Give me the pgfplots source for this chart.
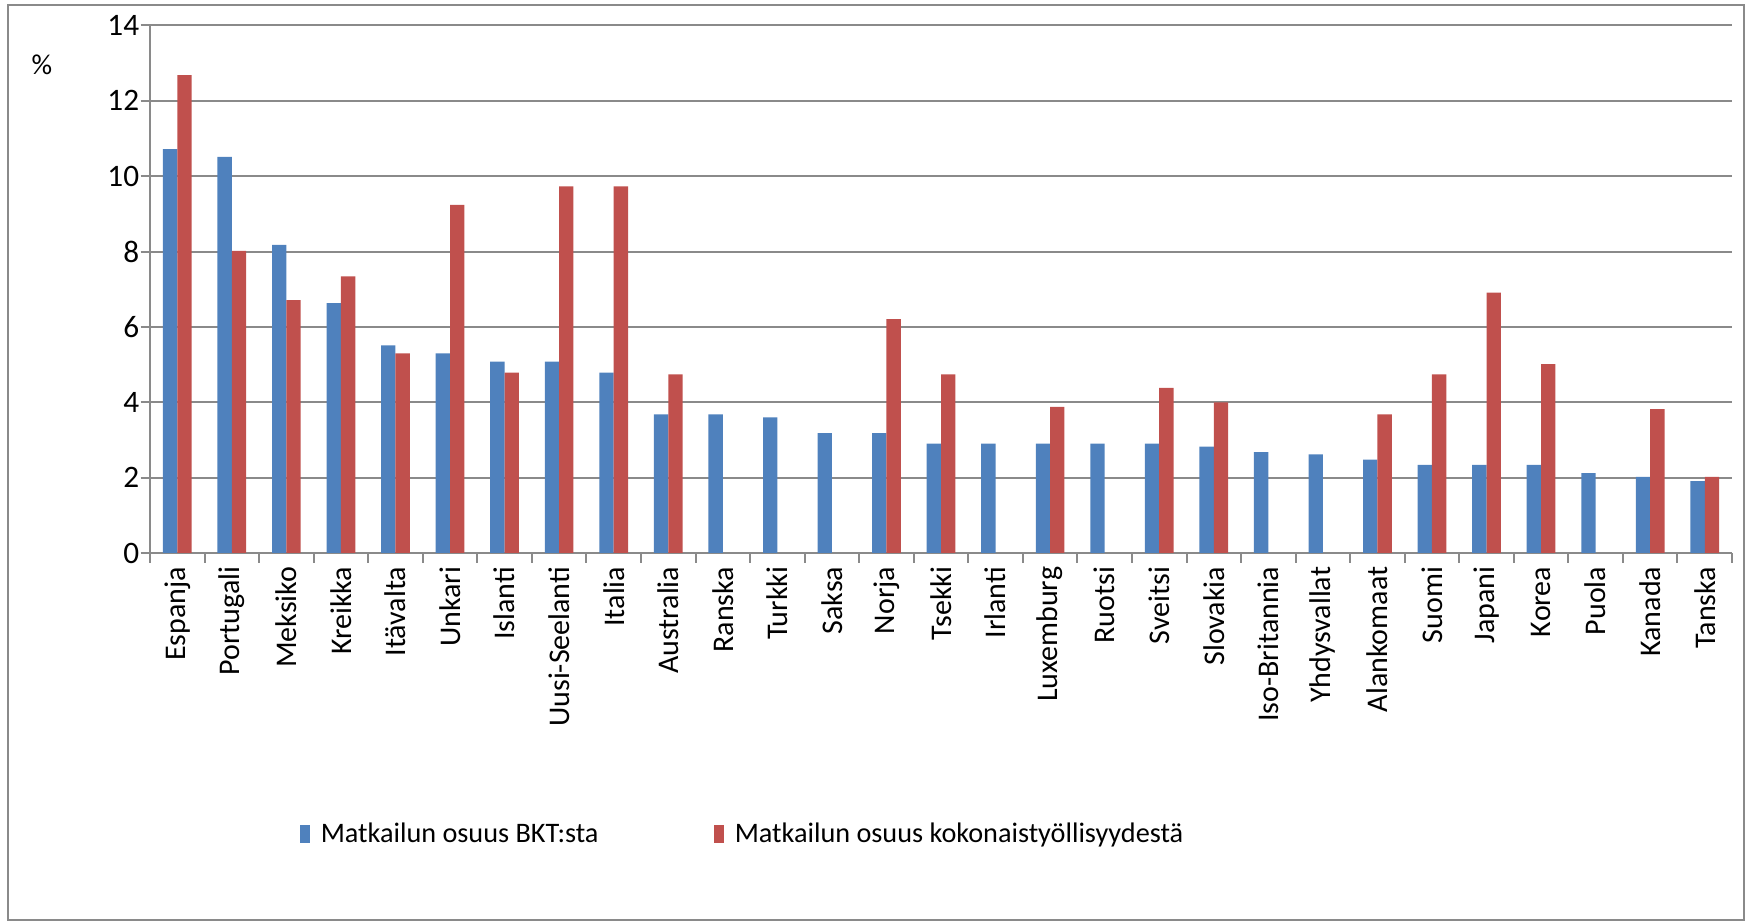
\documentclass[border=0pt]{standalone}
\usepackage{fontspec}
\setmainfont{Carlito}
\usepackage{pgfplots}
\pgfplotsset{compat=1.18}
\definecolor{exblue}{HTML}{4F81BD}
\definecolor{exred}{HTML}{C0504D}
\definecolor{gridgray}{HTML}{8A8A8A}
\begin{document}
\begin{tikzpicture}
\useasboundingbox (0,0) rectangle (700pt,369.2pt);
\draw[gridgray, line width=0.8pt] (3.2pt,1.2pt) rectangle (697.6pt,367.2pt);
\begin{axis}[
  at={(60pt,148pt)}, anchor=south west,
  scale only axis, width=632.8pt, height=211pt,
  ybar=0pt, bar width=0.263,
  xmin=-0.5, xmax=28.5, ymin=0, ymax=14,
  axis x line*=bottom, axis y line*=left,
  axis line style={gridgray, line width=0.8pt},
  tick align=outside,
  major tick length=3.8pt,
  tick style={gridgray, line width=0.8pt},
  ytick={0,2,...,14},
  ymajorgrids,
  major grid style={gridgray, line width=0.8pt},
  xtick={-0.5,0.5,...,28.5},
  xticklabel={\mbox{}},
  extra x ticks={0,...,28},
  extra x tick style={major tick length=0pt, grid=none},
  extra x tick labels={Espanja,Portugali,Meksiko,Kreikka,Itävalta,Unkari,Islanti,Uusi-Seelanti,Italia,Australia,Ranska,Turkki,Saksa,Norja,Tsekki,Irlanti,Luxemburg,Ruotsi,Sveitsi,Slovakia,Iso-Britannia,Yhdysvallat,Alankomaat,Suomi,Japani,Korea,Puola,Kanada,Tanska},
  xticklabel style={rotate=90, anchor=east, xshift=-2pt, font=\fontsize{12}{14}\selectfont},
  yticklabel style={font=\fontsize{12.5}{14}\selectfont, xshift=3pt},
  /pgf/number format/assume math mode=true,
  ylabel={\%},
  ylabel style={rotate=-90, at={(axis description cs:-0.0683,0.925)}, anchor=center, font=\fontsize{11.5}{13}\selectfont},
  legend columns=2,
  legend style={at={(0.0942,-0.533)}, anchor=west, draw=none, fill=none, inner sep=0pt,
    font=\fontsize{11.3}{13}\selectfont,
    nodes={inner xsep=4.5pt},
    /tikz/every even column/.append style={column sep=41.5pt}},
  legend image code/.code={\fill (0pt,-3.6pt) rectangle (4pt,3.6pt);},
]
\addplot[fill=exblue, draw=none] coordinates {
 (0,10.72) (1,10.51) (2,8.18) (3,6.63) (4,5.51) (5,5.30) (6,5.08) (7,5.08)
 (8,4.79) (9,3.68) (10,3.68) (11,3.60) (12,3.18) (13,3.18) (14,2.90) (15,2.90)
 (16,2.90) (17,2.90) (18,2.90) (19,2.82) (20,2.68) (21,2.62) (22,2.48) (23,2.34)
 (24,2.34) (25,2.34) (26,2.12) (27,2.02) (28,1.91)};
\addplot[fill=exred, draw=none] coordinates {
 (0,12.68) (1,8.02) (2,6.71) (3,7.34) (4,5.30) (5,9.24) (6,4.79) (7,9.73)
 (8,9.73) (9,4.74) (13,6.21) (14,4.74) (16,3.88) (18,4.38) (19,4.00)
 (22,3.68) (23,4.74) (24,6.91) (25,5.01) (27,3.82) (28,2.02)};
\legend{Matkailun osuus BKT:sta, Matkailun osuus kokonaistyöllisyydestä}
\end{axis}
\end{tikzpicture}
\end{document}
